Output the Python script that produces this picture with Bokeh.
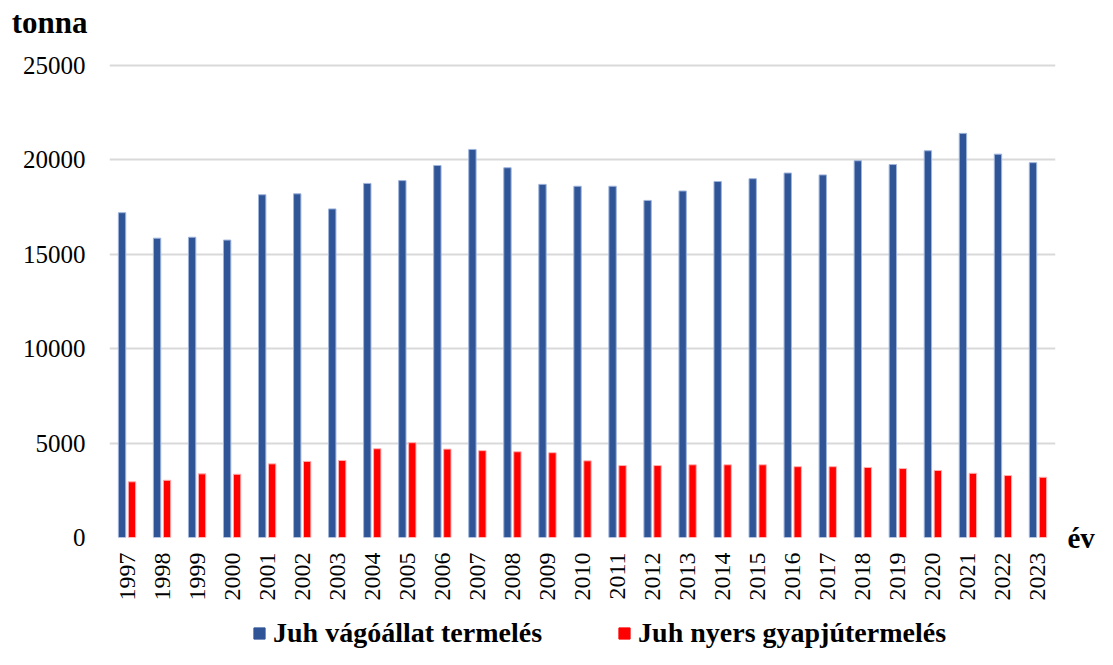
from bokeh.plotting import figure
from bokeh.models import (FactorRange, Range1d, ColumnDataSource, Legend, LegendItem,
                          FixedTicker, LinearAxis)
from bokeh.layouts import column
from bokeh.transform import dodge
from bokeh.embed import file_html
from bokeh.resources import INLINE

years = [str(y) for y in range(1997, 2024)]
vagoallat = [17200, 15850, 15900, 15750, 18150, 18200, 17400, 18750, 18900, 19700,
             20550, 19580, 18700, 18600, 18600, 17850, 18350, 18850, 19000, 19300,
             19200, 19950, 19750, 20480, 21400, 20300, 19850]
gyapju = [2950, 3030, 3370, 3350, 3900, 4030, 4080, 4700, 5020, 4680,
          4600, 4540, 4490, 4060, 3810, 3810, 3850, 3850, 3850, 3750,
          3750, 3710, 3650, 3550, 3400, 3280, 3190]
y_ticks = [0, 5000, 10000, 15000, 20000, 25000]
series_names = ["Juh vágóállat termelés", "Juh nyers gyapjútermelés"]
colors = ["#2F5597", "#FF0000"]
edge_colors = ["#9fb4dc", "#ffb0b0"]
y_title = "tonna"
x_title = "év"

FONT = "Liberation Serif"
W = 1097
LEFT, RIGHT = 109, 39

src = ColumnDataSource(data=dict(year=years, v=vagoallat, g=gyapju))


def style_axis(ax):
    ax.axis_line_color = None
    ax.major_tick_line_color = None
    ax.minor_tick_line_color = None
    ax.major_tick_out = 0
    ax.major_tick_in = 0
    ax.major_label_text_font = FONT
    ax.major_label_text_color = "black"


# --- strip holding the unit label "tonna" ---
top = figure(width=W, height=44, output_backend="svg", toolbar_location=None,
             x_range=Range1d(0, 1), y_range=Range1d(0, 1), x_axis_type=None,
             min_border_left=LEFT, min_border_right=RIGHT, min_border_top=0,
             min_border_bottom=0)
top.outline_line_color = None
top.grid.grid_line_color = None
top.yaxis.ticker = FixedTicker(ticks=[0.5])
top.yaxis.major_label_overrides = {0.5: y_title}
style_axis(top.yaxis[0])
top.yaxis.major_label_text_font_size = "31px"
top.yaxis.major_label_text_font_style = "bold"
top.yaxis.major_label_standoff = 22

# --- main chart ---
p = figure(width=W, height=566, output_backend="svg", toolbar_location=None,
           x_range=FactorRange(*years, range_padding=0), y_range=Range1d(0, 25100),
           min_border_left=LEFT, min_border_right=RIGHT, min_border_top=19,
           min_border_bottom=73)
p.outline_line_color = None
p.background_fill_color = "white"
p.border_fill_color = "white"

p.vbar(x=dodge("year", -0.142, range=p.x_range), top="v", width=0.21, source=src,
       fill_color=colors[0], line_color=edge_colors[0], line_width=1)
p.vbar(x=dodge("year", 0.142, range=p.x_range), top="g", width=0.21, source=src,
       fill_color=colors[1], line_color=edge_colors[1], line_width=1)

p.xgrid.grid_line_color = None
p.ygrid.grid_line_color = "#d9d9d9"
p.ygrid.grid_line_width = 2
p.yaxis.ticker = FixedTicker(ticks=y_ticks)

right_ax = LinearAxis(ticker=FixedTicker(ticks=[0]), major_label_overrides={0: x_title})
p.add_layout(right_ax, "right")

for ax in (p.xaxis[0], p.yaxis[0], right_ax):
    style_axis(ax)

p.yaxis[0].major_label_text_font_size = "25px"
p.yaxis[0].major_label_standoff = 24
right_ax.major_label_text_font_size = "29px"
right_ax.major_label_text_font_style = "bold"
right_ax.major_label_standoff = 12
p.xaxis.major_label_text_font_size = "24px"
p.xaxis.major_label_orientation = 1.5708
p.xaxis.major_label_standoff = 15

# --- legend strip below the chart (same series, kept far outside its visible range) ---
lg = figure(width=W, height=39, output_backend="svg", toolbar_location=None,
            x_range=FactorRange(*years, range_padding=0), y_range=Range1d(1e6, 1e6 + 1),
            min_border_left=LEFT, min_border_right=RIGHT, min_border_top=0,
            min_border_bottom=0, x_axis_type=None, y_axis_type=None)
lg.outline_line_color = None
lg.grid.grid_line_color = None
lr1 = lg.vbar(x="year", top="v", width=0.21, source=src,
              fill_color=colors[0], line_color=colors[0])
lr2 = lg.vbar(x="year", top="g", width=0.21, source=src,
              fill_color=colors[1], line_color=colors[1])

legend = Legend(items=[LegendItem(label=series_names[0], renderers=[lr1]),
                       LegendItem(label=series_names[1], renderers=[lr2])],
                location=(143, 0), orientation="horizontal",
                label_text_font=FONT, label_text_font_style="bold",
                label_text_font_size="28px", label_text_color="black",
                glyph_width=14, glyph_height=14,
                label_standoff=7, spacing=75, padding=0, margin=0,
                border_line_color=None, background_fill_alpha=0)
lg.add_layout(legend, "center")

open("out.html", "w").write(file_html(column(top, p, lg, spacing=0), INLINE))
